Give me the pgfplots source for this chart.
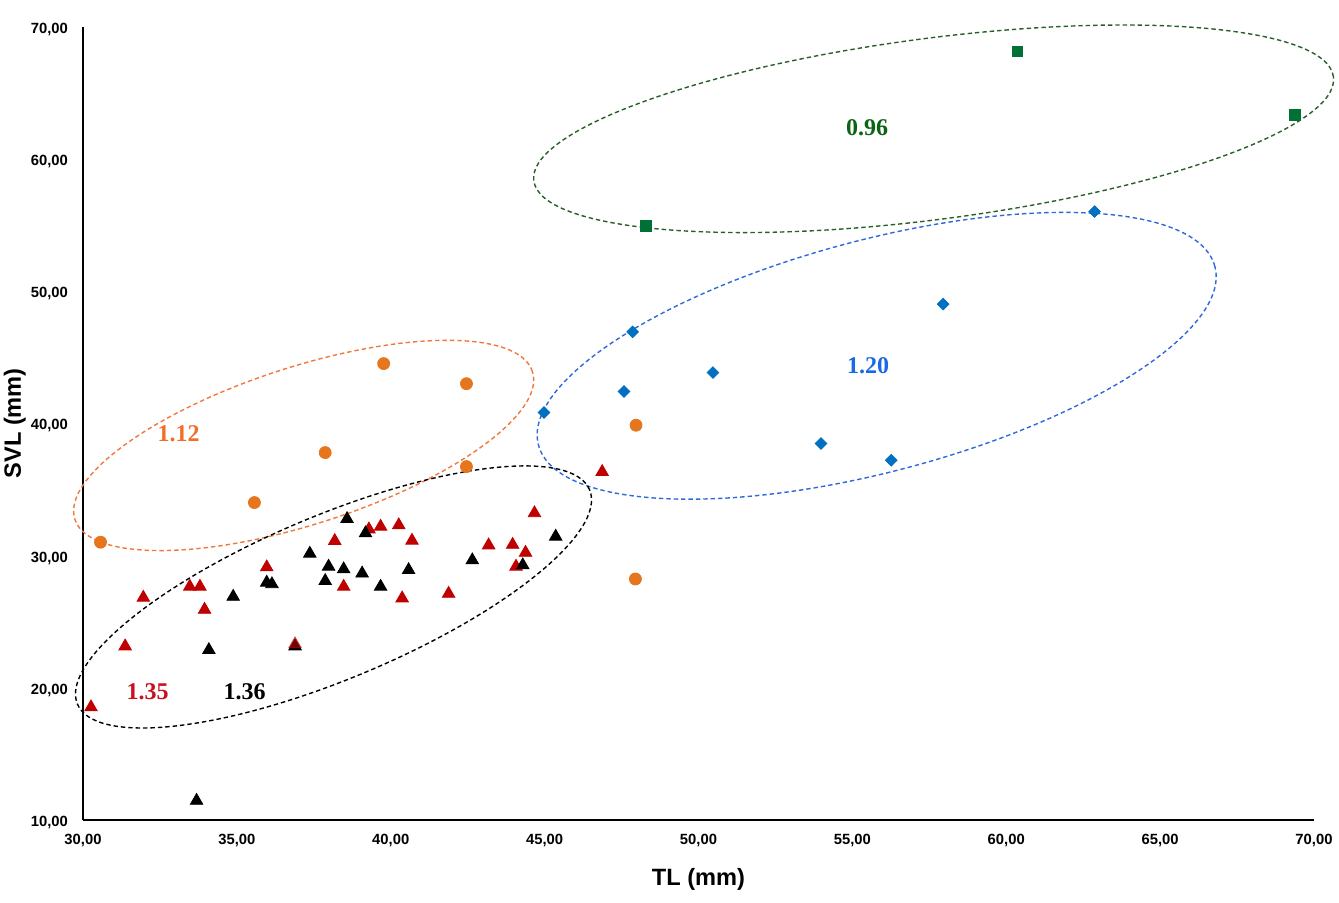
\documentclass[border=0pt]{standalone}
\usepackage{pgfplots}
\pgfplotsset{compat=1.18}
\usepackage{fontspec}
\setmainfont{Liberation Sans}
\newfontfamily\annofont{Liberation Serif}
\definecolor{sqgreen}{RGB}{0,112,55}
\definecolor{diablue}{RGB}{0,112,192}
\definecolor{circorange}{RGB}{230,118,30}
\definecolor{trired}{RGB}{192,0,0}
\definecolor{ellgreen}{RGB}{40,95,40}
\definecolor{ellblue}{RGB}{45,105,220}
\definecolor{ellorange}{RGB}{240,120,60}
\definecolor{txtgreen}{RGB}{10,100,20}
\definecolor{txtblue}{RGB}{25,105,230}
\definecolor{txtorange}{RGB}{240,110,40}
\definecolor{txtred}{RGB}{200,16,30}
\begin{document}
\begin{tikzpicture}
\begin{axis}[
  scale only axis, width=615.5pt, height=396.65pt,
  xmin=30, xmax=70, ymin=10, ymax=70,
  axis x line=bottom, axis y line=left,
  axis line style={-, line width=1pt, black},
  xtick={30,35,40,45,50,55,60,65,70},
  ytick={10,20,30,40,50,60,70},
  xticklabels={{30,00},{35,00},{40,00},{45,00},{50,00},{55,00},{60,00},{65,00},{70,00}},
  yticklabels={{10,00},{20,00},{30,00},{40,00},{50,00},{60,00},{70,00}},
  major tick length=0pt,
  ticklabel style={font=\fontsize{7.4}{9}\selectfont\bfseries},
  xticklabel style={yshift=-3.6pt},
  yticklabel style={xshift=-4pt, yshift=-1.2pt},
  xlabel={TL (mm)}, ylabel={SVL (mm)},
  label style={font=\fontsize{11.8}{14}\selectfont\bfseries},
  xlabel style={at={(axis description cs:0.5,-0.0745)}, anchor=center},
  ylabel style={at={(axis description cs:-0.0555,0.5)}, anchor=center},
  clip=false,
]
% ellipses
\draw[ellgreen, line width=0.7pt, dash pattern=on 2.2pt off 1.5pt, rotate around={7.4:(axis cs:57.64,62.28)}] (axis cs:57.64,62.28) ellipse [x radius=201.6pt, y radius=45.3pt];
\draw[ellblue, line width=0.7pt, dash pattern=on 2.2pt off 1.5pt, rotate around={14.8:(axis cs:55.79,45.11)}] (axis cs:55.79,45.11) ellipse [x radius=174.9pt, y radius=58.0pt];
\draw[ellorange, line width=0.7pt, dash pattern=on 2.2pt off 1.5pt, rotate around={17.9:(axis cs:37.17,38.33)}] (axis cs:37.17,38.33) ellipse [x radius=120.2pt, y radius=39.3pt];
\draw[black, line width=0.7pt, dash pattern=on 2.2pt off 1.5pt, rotate around={22.7:(axis cs:38.14,26.87)}] (axis cs:38.14,26.87) ellipse [x radius=138.8pt, y radius=40.9pt];

% green squares
\addplot[only marks, mark=square*, mark size=2.7pt, color=sqgreen] coordinates {
(48.28,54.94) (60.36,68.13) (69.37,63.34)
};
% blue diamonds
\addplot[only marks, mark=square*, mark size=2.05pt, mark options={rotate=45}, color=diablue] coordinates {
(62.87,56.02) (57.95,49.02) (50.47,43.84) (47.86,46.92)
(47.58,42.41) (44.98,40.82) (53.98,38.47) (56.26,37.21)
};
% orange circles
\addplot[only marks, mark=*, mark size=3pt, color=circorange] coordinates {
(39.77,44.52) (42.46,43.00) (37.87,37.79) (42.46,36.73)
(35.57,34.01) (30.57,31.01) (47.97,39.86) (47.95,28.23)
};
% red triangles
\addplot[only marks, mark=triangle*, mark size=3.6pt, color=trired] coordinates {
(30.26,18.53) (31.37,23.14) (31.96,26.82) (33.47,27.65) (33.80,27.65)
(33.95,25.91) (35.97,29.12) (38.18,31.11) (38.47,27.65)
(39.29,31.99) (39.67,32.19) (40.26,32.30) (40.69,31.13) (40.37,26.77)
(41.88,27.12) (43.18,30.78) (43.96,30.82) (44.38,30.22) (44.07,29.17)
(44.67,33.21) (46.87,36.33)
};
% black triangles
\addplot[only marks, mark=triangle*, mark size=3.6pt, color=black] coordinates {
(33.69,11.46) (34.09,22.86) (34.88,26.89) (35.97,27.96) (36.14,27.84)
(36.89,23.14) (37.37,30.15) (37.98,29.17) (37.87,28.08) (38.47,28.97)
(38.58,32.77) (39.18,31.69) (39.07,28.65) (39.67,27.65) (40.58,28.91)
(42.65,29.65) (44.29,29.27) (45.36,31.44)
};
% red triangle over black (overlap)
\addplot[only marks, mark=triangle*, mark size=3.6pt, color=trired, opacity=0.6] coordinates {
(36.89,23.30)
};

% labels
\node[font=\annofont\fontsize{12}{14}\selectfont\bfseries, text=txtgreen] at (axis cs:55.48,62.39) {0.96};
\node[font=\annofont\fontsize{12}{14}\selectfont\bfseries, text=txtblue] at (axis cs:55.51,44.35) {1.20};
\node[font=\annofont\fontsize{12}{14}\selectfont\bfseries, text=txtorange] at (axis cs:33.11,39.20) {1.12};
\node[font=\annofont\fontsize{12}{14}\selectfont\bfseries, text=txtred] at (axis cs:32.10,19.71) {1.35};
\node[font=\annofont\fontsize{12}{14}\selectfont\bfseries, text=black] at (axis cs:35.25,19.71) {1.36};
\end{axis}
\pgfresetboundingbox
\path (-41.5pt,-41pt) rectangle (628pt,410pt);
\end{tikzpicture}
\end{document}
